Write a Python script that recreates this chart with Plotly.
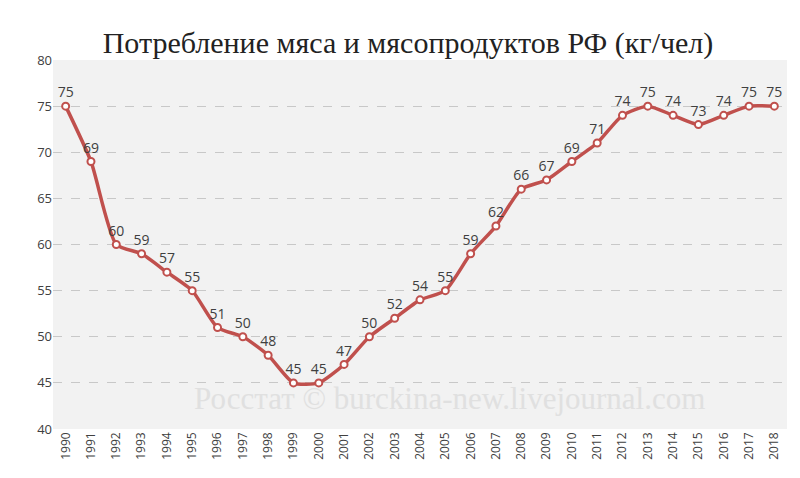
import plotly.graph_objects as go

years = [str(y) for y in range(1990, 2019)]
values = [75, 69, 60, 59, 57, 55, 51, 50, 48, 45, 45, 47, 50, 52, 54, 55,
          59, 62, 66, 67, 69, 71, 74, 75, 74, 73, 74, 75, 75]

fig = go.Figure()
fig.add_trace(go.Scatter(
    x=years, y=values, mode="lines+markers+text",
    line=dict(color="#C0504D", width=3.5, shape="spline", smoothing=0.6),
    marker=dict(size=7, color="white", line=dict(color="#C0504D", width=2)),
    text=[str(v) for v in values], textposition="top center",
    textfont=dict(family="Open Sans", size=14, color="#404040"),
    cliponaxis=False,
))

fig.add_annotation(text="Росстат © burckina-new.livejournal.com",
                   xref="paper", yref="paper", x=0.54, y=0.03, yanchor="bottom",
                   showarrow=False,
                   font=dict(family="Liberation Serif", size=31, color="#E0E0E0"))

fig.update_layout(
    width=800, height=478,
    title=dict(text="Потребление мяса и мясопродуктов РФ (кг/чел)",
               x=0.5, y=0.95, xanchor="center",
               font=dict(family="Liberation Serif", size=30, color="#222222")),
    paper_bgcolor="white", plot_bgcolor="#F2F2F2",
    margin=dict(l=45, r=21, t=52, b=57),
    showlegend=False,
    xaxis=dict(tickangle=-90, showgrid=False, ticks="", range=[-0.5, 28.5],
               tickfont=dict(family="Open Sans", size=12, color="#404040")),
    yaxis=dict(range=[40, 80], dtick=5, gridcolor="#C8C8C8", griddash="dash",
               zeroline=False, tickfont=dict(family="Open Sans", size=13, color="#404040")),
)

fig.write_html("out.html")
